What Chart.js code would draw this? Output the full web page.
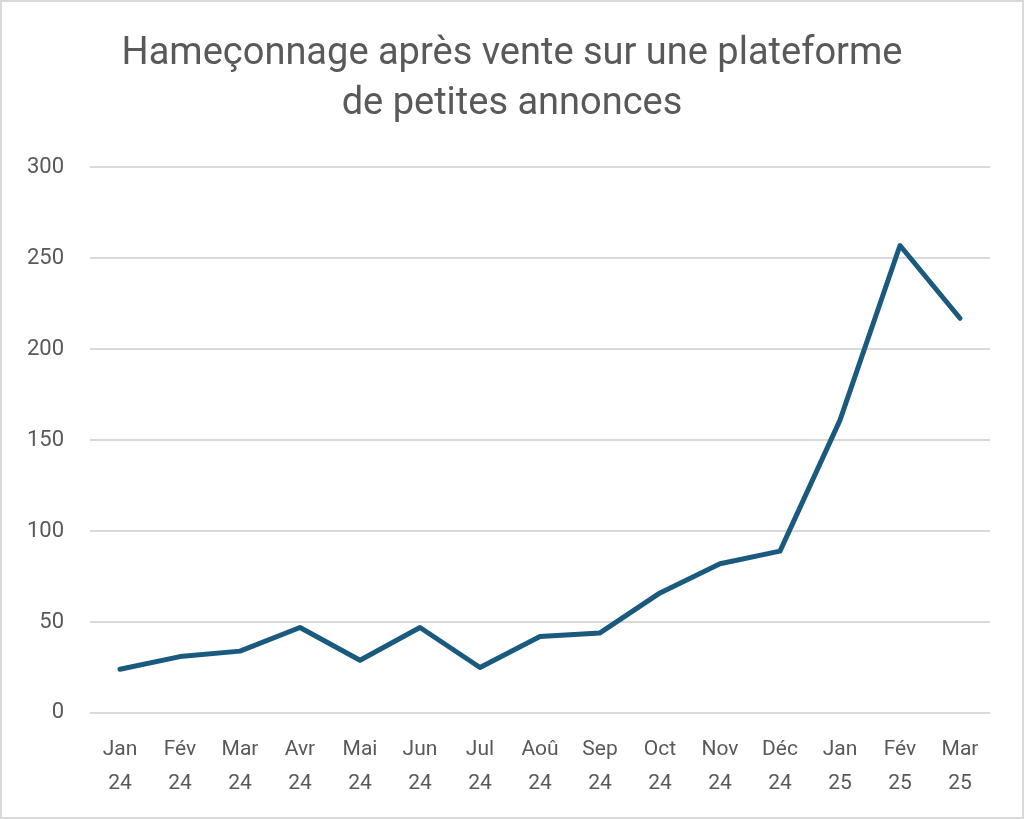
<!DOCTYPE html>
<html>
<head>
<meta charset="utf-8">
<script src="https://cdn.jsdelivr.net/npm/chart.js@4/dist/chart.umd.min.js"></script>
<style>
  html, body { margin: 0; padding: 0; background: #fff; }
  #wrap { position: absolute; left: 0; top: 0; width: 1020px; height: 815px; border: 2px solid #d9d9d9; }
</style>
</head>
<body>
<div id="wrap"><canvas id="myChart"></canvas></div>
<script>
const months = [
  ['Jan', '24'], ['Fév', '24'], ['Mar', '24'], ['Avr', '24'], ['Mai', '24'],
  ['Jun', '24'], ['Jul', '24'], ['Aoû', '24'], ['Sep', '24'], ['Oct', '24'],
  ['Nov', '24'], ['Déc', '24'], ['Jan', '25'], ['Fév', '25'], ['Mar', '25']
]
const cases = [24, 31, 34, 47, 29, 47, 25, 42, 44, 66, 82, 89, 161, 257, 217]
const yTicks = [0, 50, 100, 150, 200, 250, 300]
const titleLines = ['Hameçonnage après vente sur une plateforme', 'de petites annonces']

const textColor = '#595959'

// ***** The chart *****
const ctx = document.getElementById('myChart').getContext('2d')
const myChart = new Chart(ctx, {
  type: 'line',
  data: {
    labels: months,
    datasets: [{
      data: cases,
      borderColor: '#1a5a7e',
      borderWidth: 5,
      pointRadius: 0,
      tension: 0,
      borderJoinStyle: 'round',
      borderCapStyle: 'round'
    }]
  },
  options: {
    responsive: true,
    maintainAspectRatio: false,
    animation: false,
    layout: { padding: { top: 27, right: 0, bottom: 4, left: 0 } },
    plugins: {
      legend: { display: false },
      tooltip: { enabled: false },
      title: {
        display: true,
        text: titleLines,
        color: textColor,
        font: { family: 'Roboto', size: 38, weight: 'normal', lineHeight: 1.32 },
        padding: { top: 0, bottom: 38 }
      }
    },
    scales: {
      x: {
        offset: true,
        grid: { display: false },
        border: { display: false },
        ticks: {
          color: textColor,
          font: { family: 'Roboto', size: 21, lineHeight: 1.62 },
          maxRotation: 0,
          autoSkip: false,
          padding: 12
        }
      },
      y: {
        min: yTicks[0],
        max: yTicks[yTicks.length - 1],
        afterBuildTicks: axis => { axis.ticks = yTicks.map(v => ({ value: v })) },
        afterFit: axis => { axis.width = 88 },
        grid: { color: '#d9d9d9', lineWidth: 2, drawTicks: false },
        border: { display: false },
        ticks: {
          color: textColor,
          font: { family: 'Roboto', size: 22 },
          padding: 26
        }
      },
      // empty right margin so the title stays centred on the page
      yRight: {
        position: 'right',
        afterFit: axis => { axis.width = 32 },
        grid: { display: false },
        border: { display: false },
        ticks: { display: false }
      }
    }
  }
})
// ***** The chart end *****
</script>
</body>
</html>
